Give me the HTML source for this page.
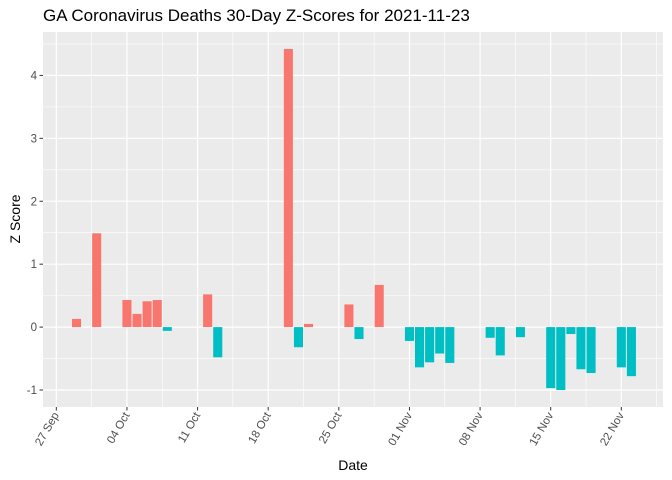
<!DOCTYPE html>
<html><head><meta charset="utf-8"><style>
body{margin:0;background:#fff;}
svg{display:block;font-family:"Liberation Sans",Arial,sans-serif;}
</style></head><body>
<svg id="chart" width="672" height="480" viewBox="0 0 672 480">
<text x="43" y="21" font-size="17" fill="#000">GA Coronavirus Deaths 30-Day Z-Scores for 2021-11-23</text>
<rect x="43" y="32" width="620" height="375" fill="#ebebeb"/>
<g id="grid"></g>
<g id="bars"></g>
<g id="axes"></g>
<text x="353" y="470" font-size="14" text-anchor="middle" fill="#000">Date</text>
<text transform="translate(20,219) rotate(-90)" font-size="14" text-anchor="middle" fill="#000">Z Score</text>
</svg>
<script>
// day offsets from 2021-09-27
const days = [2,4,7,8,9,10,11,15,16,23,24,25,29,30,32,35,36,37,38,39,43,44,46,49,50,51,52,53,56,57];
const zscores = [0.13,1.49,0.43,0.21,0.41,0.43,-0.06,0.52,-0.48,4.42,-0.32,0.05,0.36,-0.19,0.67,-0.22,-0.64,-0.56,-0.42,-0.57,-0.17,-0.45,-0.16,-0.97,-1.0,-0.11,-0.67,-0.73,-0.64,-0.78];
const xTickDays = [0,7,14,21,28,35,42,49,56];
const xTickLabels = ["27 Sep","04 Oct","11 Oct","18 Oct","25 Oct","01 Nov","08 Nov","15 Nov","22 Nov"];
const yTicks = [-1,0,1,2,3,4];

const X0=43,X1=663,Y0=32,Y1=407;
const dMin=-1.32,dMax=60.13,yMin=-1.27,yMax=4.69;
const xs=d=>X0+(d-dMin)/(dMax-dMin)*(X1-X0);
const ys=v=>Y1-(v-yMin)/(yMax-yMin)*(Y1-Y0);
const NS="http://www.w3.org/2000/svg";
function mk(tag,attrs,parent){const e=document.createElementNS(NS,tag);for(const k in attrs)e.setAttribute(k,attrs[k]);parent.appendChild(e);return e;}
const grid=document.getElementById('grid'),bars=document.getElementById('bars'),axes=document.getElementById('axes');
// minor grid
for(let i=0;i<xTickDays.length+1;i++){const d=xTickDays[0]+i*7-3.5;if(d<dMin||d>dMax)continue;
 const l=mk('line',{x1:xs(d),x2:xs(d),y1:Y0,y2:Y1,stroke:'#fff','stroke-width':0.6},grid);
 
 }
for(let v=-1.5;v<=4.5;v+=1){if(v<yMin)continue;
 const l=mk('line',{x1:X0,x2:X1,y1:ys(v),y2:ys(v),stroke:'#fff','stroke-width':0.6},grid);
 
 }
xTickDays.forEach((d,i)=>{
 const l=mk('line',{x1:xs(d),x2:xs(d),y1:Y0,y2:Y1,stroke:'#fff','stroke-width':1.2},grid);
 
 
 const t=mk('line',{x1:xs(d),x2:xs(d),y1:Y1,y2:Y1+3.5,stroke:'#333','stroke-width':1},axes);
 
 
 const tx=mk('text',{transform:`translate(${xs(d)+3},${Y1+8}) rotate(-60)`,'font-size':11.5,fill:'#4d4d4d','text-anchor':'end'},axes);
 tx.textContent=xTickLabels[i];
 
 
});
yTicks.forEach(v=>{
 const l=mk('line',{x1:X0,x2:X1,y1:ys(v),y2:ys(v),stroke:'#fff','stroke-width':1.2},grid);
 
 
 const t=mk('line',{x1:X0-3.5,x2:X0,y1:ys(v),y2:ys(v),stroke:'#333','stroke-width':1},axes);
 
 
 const tx=mk('text',{x:X0-6,y:ys(v)+4,'font-size':11.5,fill:'#4d4d4d','text-anchor':'end'},axes);
 tx.textContent=String(v);
 
 
});
const w=(xs(1)-xs(0))*0.9;
days.forEach((d,i)=>{
 const v=zscores[i];const y=Math.min(ys(v),ys(0));const h=Math.abs(ys(v)-ys(0));
 const r=mk('rect',{x:xs(d)-w/2,y:y,width:w,height:h,fill:v>=0?'#f8766d':'#00bfc4'},bars);
 
 
});
</script>
</body></html>
